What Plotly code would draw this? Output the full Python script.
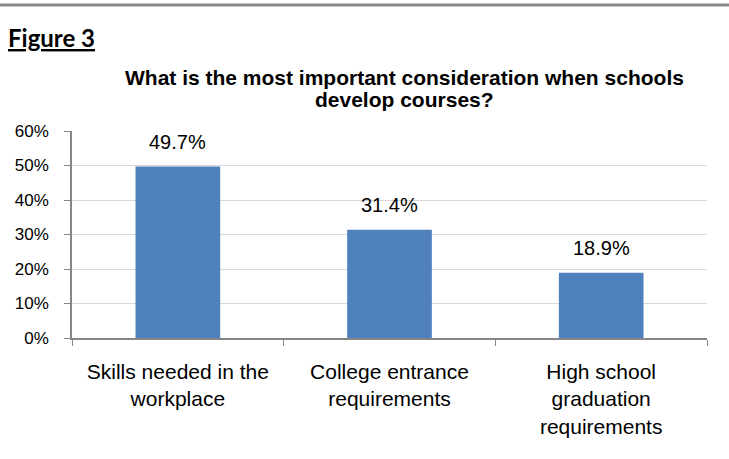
import plotly.graph_objects as go

# Survey responses: share choosing each consideration
categories = [
    "Skills needed in the<br>workplace",
    "College entrance<br>requirements",
    "High school<br>graduation<br>requirements",
]
shares = [49.7, 31.4, 18.9]
y_ticks = [0, 10, 20, 30, 40, 50, 60]
y_tick_labels = [f"{t}%" for t in y_ticks]
title_lines = [
    "What is the most important consideration when schools",
    "develop courses?",
]

W, H = 729, 459
L, R, T, B = 72, 22, 131, 121
PW, PH = W - L - R, H - T - B
BAR = "#4F81BD"
AXIS = "#868686"
GRID = "#D9D9D9"
FONT = "Liberation Sans, Arial, sans-serif"


def px_x(x):
    # page pixel -> paper x (paper spans the plot area)
    return (x - L) / PW


def px_y(y):
    # page pixel (from top) -> paper y
    return 1 + (T - y) / PH


fig = go.Figure()
fig.add_trace(go.Bar(
    x=categories,
    y=shares,
    marker=dict(color=BAR, line=dict(width=0)),
    hoverinfo="skip",
))

# value labels above each bar
for c, v in zip(categories, shares):
    fig.add_annotation(
        x=c, y=v, xref="x", yref="y",
        text=f"{v:.1f}%", showarrow=False,
        yanchor="bottom", yshift=12,
        font=dict(family=FONT, size=20, color="#000000"),
    )

# chart title, two centred bold lines
for i, line in enumerate(title_lines):
    fig.add_annotation(
        x=px_x(404), y=px_y(77 + 22 * i), xref="paper", yref="paper",
        text=f"<b>{line}</b>", showarrow=False,
        xanchor="center", yanchor="middle",
        font=dict(family=FONT, size=21, color="#000000"),
    )

# "Figure 3" caption
fig.add_annotation(
    x=px_x(6), y=px_y(37), xref="paper", yref="paper",
    text="<b><u>Figure 3</u></b>", showarrow=False,
    xanchor="left", yanchor="middle",
    font=dict(family="Lato, Liberation Sans, sans-serif", size=24, color="#000000"),
)

fig.update_layout(
    width=W, height=H,
    margin=dict(l=L, r=R, t=T, b=B, autoexpand=False),
    paper_bgcolor="#FFFFFF",
    plot_bgcolor="#FFFFFF",
    showlegend=False,
    bargap=0.6,
    xaxis=dict(
        type="category",
        showline=True, linecolor=AXIS, linewidth=1.5,
        ticks="outside", tickson="boundaries", ticklen=6, tickcolor=AXIS,
        tickfont=dict(family=FONT, size=21, color="#000000"),
        ticklabelstandoff=14,
        showgrid=False,
        fixedrange=True,
    ),
    yaxis=dict(
        range=[0, 60],
        tickvals=y_ticks, ticktext=y_tick_labels,
        showline=True, linecolor=AXIS, linewidth=1.5,
        ticks="outside", ticklen=6, tickcolor=AXIS,
        tickfont=dict(family=FONT, size=17, color="#000000"),
        ticklabelstandoff=12,
        showgrid=True, gridcolor=GRID, gridwidth=1,
        zeroline=False,
        fixedrange=True,
    ),
    shapes=[
        dict(type="line", xref="paper", yref="paper",
             x0=px_x(0), x1=px_x(W), y0=px_y(5), y1=px_y(5),
             line=dict(color="#888888", width=3)),
    ],
)

fig.write_html("out.html")
